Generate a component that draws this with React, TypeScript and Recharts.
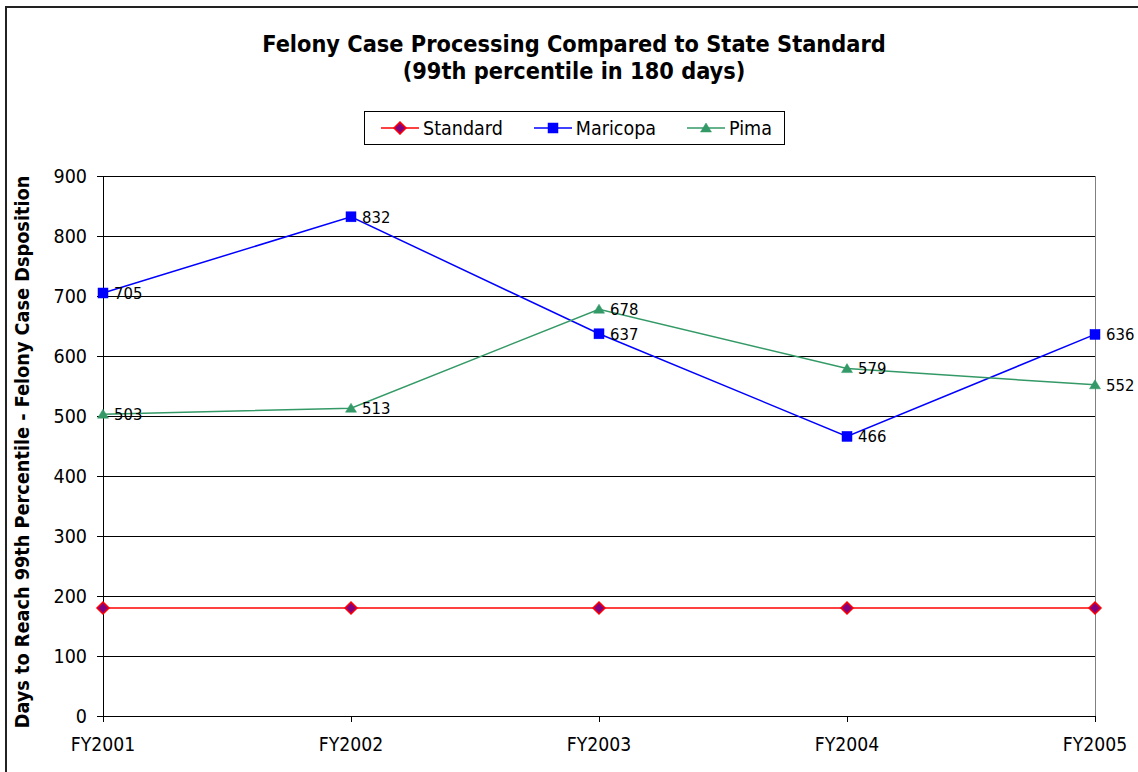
import React from 'react';
import { LineChart, Line, XAxis, YAxis, CartesianGrid, LabelList, ReferenceLine } from 'recharts';

const years = ['FY2001', 'FY2002', 'FY2003', 'FY2004', 'FY2005'];
const standardValues = [180, 180, 180, 180, 180];
const maricopaValues = [705, 832, 637, 466, 636];
const pimaValues = [503, 513, 678, 579, 552];
const yTicks = [0, 100, 200, 300, 400, 500, 600, 700, 800, 900];
const seriesNames = ['Standard', 'Maricopa', 'Pima'];

const data = years.map((y, i) => ({
  year: y,
  Standard: standardValues[i],
  Maricopa: maricopaValues[i],
  Pima: pimaValues[i],
}));

const FONT = "'DejaVu Sans Condensed', 'DejaVu Sans', sans-serif";

const RED = '#FF0000';
const PURPLE = '#800080';
const BLUE = '#0000FF';
const GREEN = '#339966';

const Diamond = ({ cx, cy, size = 6 }: any) => (
  <path d={`M${cx},${cy - size} L${cx + size},${cy} L${cx},${cy + size} L${cx - size},${cy} Z`} fill={PURPLE} stroke={RED} strokeWidth={1.5} />
);
const Square = ({ cx, cy, size = 5 }: any) => (
  <rect x={cx - size} y={cy - size} width={size * 2} height={size * 2} fill={BLUE} stroke={BLUE} strokeWidth={0.5} />
);
const Triangle = ({ cx, cy, size = 5 }: any) => (
  <path d={`M${cx},${cy - size} L${cx + size + 0.5},${cy + size - 1} L${cx - size - 0.5},${cy + size - 1} Z`} fill={GREEN} stroke={GREEN} strokeWidth={0.5} />
);

const renderDiamond = (p: any) => <Diamond key={`d-${p.index}`} cx={p.cx} cy={p.cy} />;
const renderSquare = (p: any) => <Square key={`s-${p.index}`} cx={p.cx} cy={p.cy} />;
const renderTriangle = (p: any) => <Triangle key={`t-${p.index}`} cx={p.cx} cy={p.cy} />;

const legendItems = [
  { name: seriesNames[0], color: RED, Marker: Diamond },
  { name: seriesNames[1], color: BLUE, Marker: Square },
  { name: seriesNames[2], color: GREEN, Marker: Triangle },
];

const LegendBox = () => (
  <div
    style={{
      position: 'absolute',
      left: 364,
      top: 111,
      boxSizing: 'border-box',
      width: 421,
      height: 34,
      border: '1px solid #000',
      background: '#fff',
      display: 'flex',
      alignItems: 'center',
      paddingLeft: 16,
      gap: 31,
      fontFamily: FONT,
      fontSize: 19.5,
      color: '#000',
    }}
  >
    {legendItems.map(({ name, color, Marker }) => (
      <div key={name} style={{ display: 'flex', alignItems: 'center' }}>
        <svg width={38} height={14} style={{ marginRight: 4 }}>
          <line x1={0} y1={7} x2={38} y2={7} stroke={color} strokeWidth={1.5} />
          <Marker cx={19} cy={7} />
        </svg>
        <span>{name}</span>
      </div>
    ))}
  </div>
);

export default function App() {
  return (
    <div style={{ position: 'absolute', left: 0, top: 0, width: 1138, height: 772, background: '#fff', overflow: 'hidden', fontFamily: FONT }}>
      <style>{`.recharts-cartesian-grid line, .recharts-cartesian-axis line, .recharts-reference-line line { shape-rendering: crispEdges; }`}</style>
      <div
        style={{
          position: 'absolute',
          left: 5,
          top: 6,
          width: 1140,
          height: 780,
          border: '2px solid #222',
          boxSizing: 'border-box',
        }}
      />
      <div
        style={{
          position: 'absolute',
          left: 574,
          top: 30,
          transform: 'translateX(-50%)',
          textAlign: 'center',
          fontWeight: 'bold',
          fontSize: 23.3,
          lineHeight: '27px',
          whiteSpace: 'nowrap',
          color: '#000',
        }}
      >
        <div>Felony Case Processing Compared to State Standard</div>
        <div>(99th percentile in 180 days)</div>
      </div>
      <div
        style={{
          position: 'absolute',
          left: 22,
          top: 452,
          transform: 'translate(-50%, -50%) rotate(-90deg)',
          fontWeight: 'bold',
          fontSize: 19.7,
          whiteSpace: 'nowrap',
          color: '#000',
        }}
      >
        Days to Reach 99th Percentile - Felony Case Dsposition
      </div>
      <LegendBox />
      <div style={{ position: 'absolute', left: 0, top: 0 }}>
        <LineChart width={1138} height={772} data={data} margin={{ top: 176, right: 43, left: 43, bottom: 26 }}>
          <CartesianGrid horizontal vertical={false} stroke="#000" strokeWidth={1} />
          <XAxis
            dataKey="year"
            axisLine={{ stroke: '#000' }}
            tickLine={{ stroke: '#000' }}
            tickSize={6}
            tickMargin={15}
            height={30}
            tick={{ fill: '#000', fontSize: 19.2, fontFamily: FONT }}
            interval={0}
          />
          <YAxis
            domain={[0, 900]}
            ticks={yTicks}
            width={60}
            axisLine={{ stroke: '#000' }}
            tickLine={{ stroke: '#000' }}
            tickSize={6}
            tickMargin={10}
            tick={{ fill: '#000', fontSize: 19.5, fontFamily: FONT }}
            interval={0}
          />
          <ReferenceLine x="FY2005" stroke="#808080" strokeWidth={1} />
          <Line
            dataKey="Standard"
            stroke={RED}
            strokeWidth={1.5}
            dot={renderDiamond}
            activeDot={false}
            isAnimationActive={false}
          />
          <Line
            dataKey="Maricopa"
            stroke={BLUE}
            strokeWidth={1.5}
            dot={renderSquare}
            activeDot={false}
            isAnimationActive={false}
          >
            <LabelList dataKey="Maricopa" position="right" offset={11} fill="#000" fontSize={16.5} fontFamily={FONT} />
          </Line>
          <Line
            dataKey="Pima"
            stroke={GREEN}
            strokeWidth={1.5}
            dot={renderTriangle}
            activeDot={false}
            isAnimationActive={false}
          >
            <LabelList dataKey="Pima" position="right" offset={11} fill="#000" fontSize={16.5} fontFamily={FONT} />
          </Line>
        </LineChart>
      </div>
    </div>
  );
}
